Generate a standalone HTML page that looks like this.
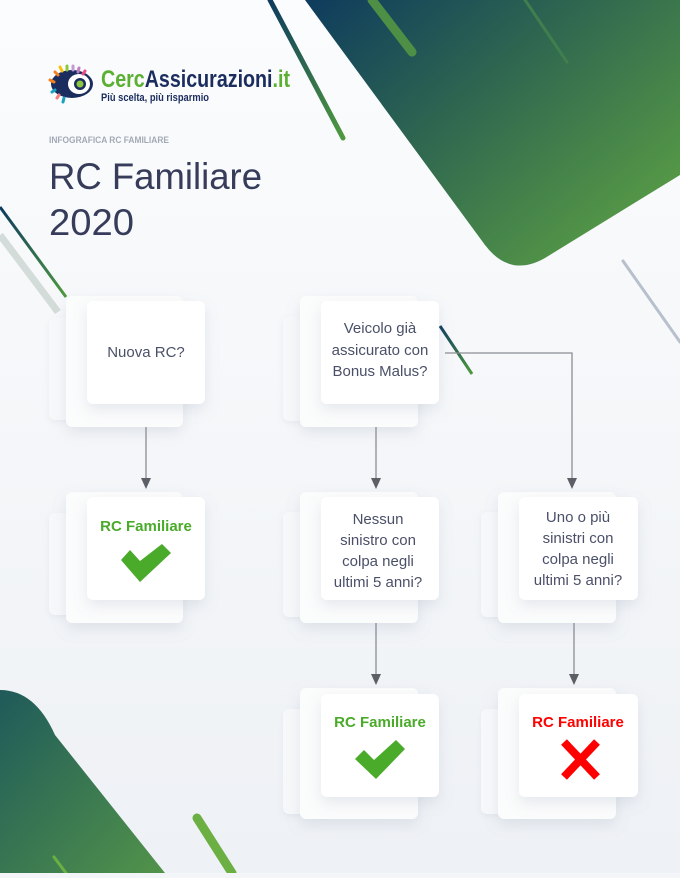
<!DOCTYPE html>
<html><head><meta charset="utf-8"><style>
html,body{margin:0;padding:0}
body{width:680px;height:873px;overflow:hidden;background:#f3f5f8}
</style></head><body>
<svg width="680" height="873" viewBox="0 0 680 873" xmlns="http://www.w3.org/2000/svg" font-family="Liberation Sans, sans-serif">
<defs>
<linearGradient id="bg" x1="0" y1="0" x2="0" y2="1"><stop offset="0" stop-color="#fbfcfd"/><stop offset="1" stop-color="#eef1f5"/></linearGradient>
<linearGradient id="g1" x1="0" y1="0" x2="1" y2="0.8"><stop offset="0" stop-color="#0d3a5e"/><stop offset="0.45" stop-color="#2e6650"/><stop offset="1" stop-color="#5a9e45"/></linearGradient>
<linearGradient id="g2" x1="0" y1="0" x2="1" y2="1"><stop offset="0" stop-color="#1f5a5a"/><stop offset="1" stop-color="#52934a"/></linearGradient>
<linearGradient id="ln" x1="0" y1="0" x2="1" y2="1"><stop offset="0" stop-color="#0d3a5e"/><stop offset="1" stop-color="#4f9a3f"/></linearGradient>
<filter id="sh" x="-30%" y="-30%" width="160%" height="170%"><feDropShadow dx="0" dy="6" stdDeviation="7" flood-color="#8090a8" flood-opacity="0.18"/></filter>
<filter id="sh2" x="-30%" y="-30%" width="160%" height="170%"><feDropShadow dx="0" dy="2" stdDeviation="3" flood-color="#8090a8" flood-opacity="0.12"/></filter>
</defs>
<rect width="680" height="873" fill="url(#bg)"/>
<path d="M298,0 L680,0 L680,175 L545,258 Q510,278 485,245 L305,0 Z" fill="url(#g1)"/>
<line x1="270" y1="0" x2="343" y2="138" stroke="url(#ln)" stroke-width="5" stroke-linecap="round"/>
<line x1="372" y1="0" x2="412" y2="52" stroke="#4d8f45" stroke-width="9" stroke-linecap="round"/>
<line x1="525" y1="0" x2="567" y2="62" stroke="#3f7f4e" stroke-width="3" stroke-linecap="round"/>
<line x1="623" y1="261" x2="680" y2="342" stroke="#b8c0cc" stroke-width="3" stroke-linecap="round"/>
<line x1="0" y1="207" x2="66" y2="297" stroke="url(#ln)" stroke-width="3"/>
<line x1="0" y1="235" x2="58" y2="312" stroke="#d3dcd8" stroke-width="7"/>
<line x1="440" y1="326" x2="472" y2="374" stroke="url(#ln)" stroke-width="3"/>
<path d="M0,690 Q35,690 55,735 L165,873 L0,873 Z" fill="url(#g2)"/>
<line x1="197" y1="818" x2="232" y2="873" stroke="#6cb043" stroke-width="9" stroke-linecap="round"/>
<line x1="54" y1="857" x2="66" y2="873" stroke="#6cb043" stroke-width="3" stroke-linecap="round"/>

<g>
<ellipse cx="72" cy="84" rx="21" ry="14" fill="#1a2d5e"/>
<ellipse cx="79" cy="84" rx="11" ry="10" fill="#fff"/>
<circle cx="80" cy="84" r="6" fill="#1a2d5e"/><circle cx="80" cy="84" r="3.5" fill="#8dc63f"/>
<g stroke-width="3" stroke-linecap="round">
<line x1="50" y1="80" x2="54" y2="82" stroke="#f58220"/>
<line x1="55" y1="72" x2="58" y2="75" stroke="#f58220"/>
<line x1="60" y1="67" x2="62" y2="71" stroke="#f4c20d"/>
<line x1="67" y1="66" x2="67" y2="70" stroke="#8dc63f"/>
<line x1="73" y1="66" x2="73" y2="70" stroke="#c39bd3"/>
<line x1="79" y1="68" x2="78" y2="72" stroke="#c080c0"/>
<line x1="85" y1="71" x2="83" y2="74" stroke="#ea4c89"/>
<line x1="52" y1="92" x2="55" y2="90" stroke="#1aa0c0"/>
<line x1="57" y1="98" x2="59" y2="95" stroke="#f08080"/>
<line x1="63" y1="102" x2="64" y2="98" stroke="#1aa0c0"/>
</g>
<text x="101" y="87" font-size="24" font-weight="bold" textLength="189" lengthAdjust="spacingAndGlyphs"><tspan fill="#5ab031">Cerc</tspan><tspan fill="#1a2d5e">Assicurazioni</tspan><tspan fill="#5ab031">.it</tspan></text>
<text x="101" y="101" font-size="11" font-weight="bold" fill="#1a2d5e" textLength="108" lengthAdjust="spacingAndGlyphs">Più scelta, più risparmio</text>
</g>
<text x="49" y="143" font-size="9" font-weight="bold" fill="#a3a9b6" textLength="120" lengthAdjust="spacingAndGlyphs">INFOGRAFICA RC FAMILIARE</text>
<text x="49" y="189" font-size="37" fill="#363c5a" textLength="213" lengthAdjust="spacingAndGlyphs">RC Familiare</text>
<text x="49" y="235" font-size="37" fill="#363c5a" textLength="85" lengthAdjust="spacingAndGlyphs">2020</text>

<g stroke="#8a8d93" stroke-width="1.3" fill="none">
<line x1="146" y1="410" x2="146" y2="480"/>
<line x1="376" y1="410" x2="376" y2="480"/>
<polyline points="445,353 572,353 572,480"/>
<line x1="376" y1="607" x2="376" y2="676"/>
<line x1="574" y1="607" x2="574" y2="676"/>
</g>
<g fill="#5c5f66">
<path d="M141,478 L151,478 L146,489 Z"/>
<path d="M371,478 L381,478 L376,489 Z"/>
<path d="M567,478 L577,478 L572,489 Z"/>
<path d="M371,674 L381,674 L376,685 Z"/>
<path d="M569,674 L579,674 L574,685 Z"/>
</g>

<g>
<rect x="49" y="318" width="100" height="102" rx="6" fill="#f7f8fa" filter="url(#sh2)"/>
<rect x="66" y="296" width="117" height="131" rx="6" fill="#fbfcfc" filter="url(#sh)"/>
<rect x="87" y="301" width="118" height="103" rx="6" fill="#fff" filter="url(#sh)"/>

<rect x="49" y="513" width="100" height="102" rx="6" fill="#f7f8fa" filter="url(#sh2)"/>
<rect x="66" y="492" width="117" height="131" rx="6" fill="#fbfcfc" filter="url(#sh)"/>
<rect x="87" y="497" width="118" height="103" rx="6" fill="#fff" filter="url(#sh)"/>

<rect x="283" y="316" width="100" height="105" rx="6" fill="#f7f8fa" filter="url(#sh2)"/>
<rect x="300" y="296" width="118" height="131" rx="6" fill="#fbfcfc" filter="url(#sh)"/>
<rect x="321" y="301" width="118" height="103" rx="6" fill="#fff" filter="url(#sh)"/>

<rect x="283" y="512" width="100" height="105" rx="6" fill="#f7f8fa" filter="url(#sh2)"/>
<rect x="300" y="492" width="118" height="131" rx="6" fill="#fbfcfc" filter="url(#sh)"/>
<rect x="321" y="497" width="118" height="103" rx="6" fill="#fff" filter="url(#sh)"/>

<rect x="481" y="512" width="100" height="105" rx="6" fill="#f7f8fa" filter="url(#sh2)"/>
<rect x="498" y="492" width="118" height="131" rx="6" fill="#fbfcfc" filter="url(#sh)"/>
<rect x="519" y="497" width="119" height="103" rx="6" fill="#fff" filter="url(#sh)"/>

<rect x="283" y="709" width="100" height="105" rx="6" fill="#f7f8fa" filter="url(#sh2)"/>
<rect x="300" y="688" width="118" height="131" rx="6" fill="#fbfcfc" filter="url(#sh)"/>
<rect x="321" y="694" width="118" height="103" rx="6" fill="#fff" filter="url(#sh)"/>

<rect x="481" y="709" width="100" height="105" rx="6" fill="#f7f8fa" filter="url(#sh2)"/>
<rect x="498" y="688" width="118" height="131" rx="6" fill="#fbfcfc" filter="url(#sh)"/>
<rect x="519" y="694" width="119" height="103" rx="6" fill="#fff" filter="url(#sh)"/>
</g>

<g font-size="15" fill="#4a5068" text-anchor="middle">
<text x="146" y="357">Nuova RC?</text>
<text x="380" y="333">Veicolo già</text>
<text x="380" y="355">assicurato con</text>
<text x="380" y="376">Bonus Malus?</text>
<text x="378" y="524">Nessun</text>
<text x="378" y="545">sinistro con</text>
<text x="378" y="566">colpa negli</text>
<text x="378" y="587">ultimi 5 anni?</text>
<text x="578" y="522">Uno o più</text>
<text x="578" y="543">sinistri con</text>
<text x="578" y="564">colpa negli</text>
<text x="578" y="585">ultimi 5 anni?</text>
</g>
<g font-size="15" font-weight="bold" text-anchor="middle">
<text x="146" y="531" fill="#4aaa2a">RC Familiare</text>
<text x="380" y="727" fill="#4aaa2a">RC Familiare</text>
<text x="578" y="727" fill="#ff0000">RC Familiare</text>
</g>
<path d="M121,560 L130,550 L140,561 L162,544 L171,553 L140,582 Z" fill="#4aaa2a"/>
<path d="M355,759 L364,750 L374,760 L396,740 L405,749 L376,779 Z" fill="#4aaa2a"/>
<g stroke="#ff0000" stroke-width="8"><line x1="564" y1="742" x2="597" y2="777"/><line x1="597" y1="742" x2="564" y2="777"/></g>
</svg>
</body></html>
